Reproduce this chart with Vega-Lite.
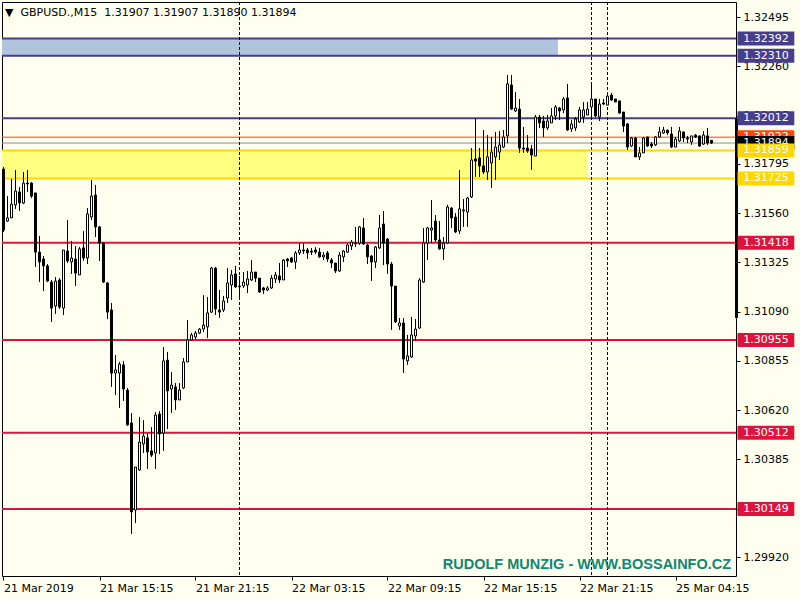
{
"$schema": "https://vega.github.io/schema/vega-lite/v6.json",
"width": 734, "height": 574,
"autosize": {"type": "none"},
"padding": {"left": 2, "top": 2, "right": 64, "bottom": 24},
"background": "#fffff0",
"config": {
 "view": {"stroke": "#000000", "strokeWidth": 1, "fill": "#fffff0"},
 "font": "DejaVu Sans",
 "axis": {"grid": false, "domain": false, "tickSize": 4, "tickColor": "#000000", "tickWidth": 1, "labelColor": "#000000", "labelFont": "DejaVu Sans", "labelFontSize": 11, "labelOverlap": false, "labelFlush": false, "labelBound": false}
},
"title": {"text": "▼\u00a0\u00a0GBPUSD.,M15\u00a0\u00a01.31907 1.31907 1.31890 1.31894", "anchor": "start", "frame": "group", "orient": "top", "offset": -16, "dx": 3, "font": "DejaVu Sans", "fontSize": 11, "fontWeight": "normal", "color": "#000000"},
"datasets": {
"levels": [
{"price": 1.32392, "kind": "resistance"},
{"price": 1.3231, "kind": "resistance"},
{"price": 1.32012, "kind": "resistance"},
{"price": 1.31922, "kind": "pivot"},
{"price": 1.31894, "kind": "bid"},
{"price": 1.31859, "kind": "zone"},
{"price": 1.31725, "kind": "zone"},
{"price": 1.31418, "kind": "support"},
{"price": 1.30955, "kind": "support"},
{"price": 1.30512, "kind": "support"},
{"price": 1.30149, "kind": "support"}
],
"candles": [{"i":0,"o":1.3177,"h":1.3178,"l":1.3147,"c":1.31479},
{"i":1,"o":1.31522,"h":1.31641,"l":1.31518,"c":1.31537},
{"i":2,"o":1.31537,"h":1.31723,"l":1.31537,"c":1.31603},
{"i":3,"o":1.31599,"h":1.31765,"l":1.3158,"c":1.31665},
{"i":4,"o":1.31661,"h":1.31684,"l":1.3157,"c":1.31608},
{"i":5,"o":1.31608,"h":1.31756,"l":1.31603,"c":1.31703},
{"i":6,"o":1.31703,"h":1.31765,"l":1.31661,"c":1.31699},
{"i":7,"o":1.31703,"h":1.31708,"l":1.31632,"c":1.31641},
{"i":8,"o":1.31656,"h":1.31656,"l":1.31303,"c":1.31374},
{"i":9,"o":1.31374,"h":1.31451,"l":1.31231,"c":1.31327},
{"i":10,"o":1.31341,"h":1.31355,"l":1.31188,"c":1.31308},
{"i":11,"o":1.31308,"h":1.31317,"l":1.31231,"c":1.31236},
{"i":12,"o":1.31231,"h":1.31241,"l":1.31041,"c":1.31107},
{"i":13,"o":1.31117,"h":1.31255,"l":1.31079,"c":1.31236},
{"i":14,"o":1.31241,"h":1.3125,"l":1.31103,"c":1.31112},
{"i":15,"o":1.31107,"h":1.31384,"l":1.31074,"c":1.31384},
{"i":16,"o":1.31379,"h":1.31527,"l":1.31322,"c":1.31332},
{"i":17,"o":1.31327,"h":1.31427,"l":1.3127,"c":1.31346},
{"i":18,"o":1.31341,"h":1.31403,"l":1.31212,"c":1.31274},
{"i":19,"o":1.31265,"h":1.31398,"l":1.31265,"c":1.31389},
{"i":20,"o":1.31394,"h":1.31475,"l":1.31332,"c":1.31346},
{"i":21,"o":1.31346,"h":1.31584,"l":1.31317,"c":1.31556},
{"i":22,"o":1.31541,"h":1.31718,"l":1.31527,"c":1.31641},
{"i":23,"o":1.31646,"h":1.31694,"l":1.31446,"c":1.31494},
{"i":24,"o":1.31494,"h":1.31498,"l":1.31332,"c":1.31417},
{"i":25,"o":1.31417,"h":1.31422,"l":1.31227,"c":1.31231},
{"i":26,"o":1.31227,"h":1.31231,"l":1.31055,"c":1.31088},
{"i":27,"o":1.31098,"h":1.31131,"l":1.30731,"c":1.30797},
{"i":28,"o":1.30797,"h":1.30883,"l":1.30692,"c":1.30812},
{"i":29,"o":1.30797,"h":1.3085,"l":1.30631,"c":1.3084},
{"i":30,"o":1.30836,"h":1.30855,"l":1.30664,"c":1.30721},
{"i":31,"o":1.30716,"h":1.30726,"l":1.30545,"c":1.3055},
{"i":32,"o":1.30559,"h":1.30607,"l":1.3003,"c":1.30135},
{"i":33,"o":1.30144,"h":1.30349,"l":1.30082,"c":1.30349},
{"i":34,"o":1.30335,"h":1.30588,"l":1.3033,"c":1.30468},
{"i":35,"o":1.30459,"h":1.30573,"l":1.30416,"c":1.30497},
{"i":36,"o":1.30488,"h":1.30511,"l":1.3034,"c":1.30421},
{"i":37,"o":1.30426,"h":1.3054,"l":1.30397,"c":1.30406},
{"i":38,"o":1.30416,"h":1.30612,"l":1.3034,"c":1.30597},
{"i":39,"o":1.30602,"h":1.30616,"l":1.30411,"c":1.30507},
{"i":40,"o":1.30511,"h":1.30921,"l":1.30426,"c":1.30855},
{"i":41,"o":1.30859,"h":1.30898,"l":1.3053,"c":1.30712},
{"i":42,"o":1.30721,"h":1.30802,"l":1.30607,"c":1.3074},
{"i":43,"o":1.30731,"h":1.3075,"l":1.30621,"c":1.30669},
{"i":44,"o":1.30669,"h":1.3075,"l":1.30669,"c":1.30716},
{"i":45,"o":1.30726,"h":1.30869,"l":1.30721,"c":1.3085},
{"i":46,"o":1.3085,"h":1.3105,"l":1.3085,"c":1.30955},
{"i":47,"o":1.30955,"h":1.30988,"l":1.3095,"c":1.30979},
{"i":48,"o":1.30969,"h":1.30998,"l":1.3096,"c":1.30988},
{"i":49,"o":1.30988,"h":1.31012,"l":1.30983,"c":1.31007},
{"i":50,"o":1.31007,"h":1.31169,"l":1.30993,"c":1.31026},
{"i":51,"o":1.31017,"h":1.3116,"l":1.30964,"c":1.31084},
{"i":52,"o":1.31088,"h":1.31303,"l":1.31084,"c":1.31298},
{"i":53,"o":1.31298,"h":1.31303,"l":1.31074,"c":1.31103},
{"i":54,"o":1.31098,"h":1.31193,"l":1.3106,"c":1.31088},
{"i":55,"o":1.31098,"h":1.31165,"l":1.31088,"c":1.31141},
{"i":56,"o":1.31155,"h":1.31298,"l":1.31131,"c":1.31227},
{"i":57,"o":1.31217,"h":1.31289,"l":1.31146,"c":1.31265},
{"i":58,"o":1.3127,"h":1.31308,"l":1.31203,"c":1.31208},
{"i":59,"o":1.31212,"h":1.3126,"l":1.31155,"c":1.31208},
{"i":60,"o":1.31212,"h":1.31279,"l":1.31203,"c":1.31231},
{"i":61,"o":1.31217,"h":1.31284,"l":1.31179,"c":1.31246},
{"i":62,"o":1.31241,"h":1.31336,"l":1.31236,"c":1.31279},
{"i":63,"o":1.31279,"h":1.31279,"l":1.31231,"c":1.3125},
{"i":64,"o":1.3125,"h":1.3125,"l":1.31179,"c":1.31184},
{"i":65,"o":1.31203,"h":1.31208,"l":1.31174,"c":1.31193},
{"i":66,"o":1.31193,"h":1.31212,"l":1.31188,"c":1.31203},
{"i":67,"o":1.31203,"h":1.31265,"l":1.31198,"c":1.3125},
{"i":68,"o":1.31246,"h":1.31279,"l":1.31227,"c":1.31265},
{"i":69,"o":1.3126,"h":1.31322,"l":1.31227,"c":1.31241},
{"i":70,"o":1.31241,"h":1.31341,"l":1.31241,"c":1.31336},
{"i":71,"o":1.31341,"h":1.31346,"l":1.31303,"c":1.31332},
{"i":72,"o":1.31346,"h":1.31351,"l":1.31322,"c":1.31327},
{"i":73,"o":1.31327,"h":1.31379,"l":1.31293,"c":1.3137},
{"i":74,"o":1.3137,"h":1.31417,"l":1.3136,"c":1.31384},
{"i":75,"o":1.31384,"h":1.31417,"l":1.31365,"c":1.31379},
{"i":76,"o":1.31384,"h":1.31394,"l":1.31341,"c":1.3137},
{"i":77,"o":1.31379,"h":1.31394,"l":1.3136,"c":1.31374},
{"i":78,"o":1.31384,"h":1.31398,"l":1.31365,"c":1.31374},
{"i":79,"o":1.31374,"h":1.31394,"l":1.31346,"c":1.31351},
{"i":80,"o":1.31351,"h":1.31374,"l":1.31336,"c":1.3136},
{"i":81,"o":1.3137,"h":1.31379,"l":1.31327,"c":1.31341},
{"i":82,"o":1.31336,"h":1.31346,"l":1.31298,"c":1.31322},
{"i":83,"o":1.31322,"h":1.31322,"l":1.31274,"c":1.31284},
{"i":84,"o":1.31284,"h":1.31374,"l":1.31279,"c":1.3136},
{"i":85,"o":1.31351,"h":1.31384,"l":1.31327,"c":1.31379},
{"i":86,"o":1.31374,"h":1.31417,"l":1.3137,"c":1.31408},
{"i":87,"o":1.31403,"h":1.31432,"l":1.31384,"c":1.31422},
{"i":88,"o":1.31417,"h":1.31494,"l":1.31398,"c":1.31413},
{"i":89,"o":1.31417,"h":1.31498,"l":1.31408,"c":1.31494},
{"i":90,"o":1.31489,"h":1.31537,"l":1.31408,"c":1.31413},
{"i":91,"o":1.31408,"h":1.31413,"l":1.31317,"c":1.31351},
{"i":92,"o":1.31355,"h":1.3136,"l":1.31236,"c":1.31327},
{"i":93,"o":1.31327,"h":1.31403,"l":1.31298,"c":1.31398},
{"i":94,"o":1.31394,"h":1.31551,"l":1.31389,"c":1.31489},
{"i":95,"o":1.31508,"h":1.3157,"l":1.31312,"c":1.31417},
{"i":96,"o":1.31436,"h":1.31441,"l":1.3127,"c":1.31317},
{"i":97,"o":1.31317,"h":1.31327,"l":1.31003,"c":1.31212},
{"i":98,"o":1.31212,"h":1.31212,"l":1.31036,"c":1.31041},
{"i":99,"o":1.31022,"h":1.3106,"l":1.31003,"c":1.31036},
{"i":100,"o":1.31036,"h":1.3106,"l":1.30797,"c":1.30864},
{"i":101,"o":1.30855,"h":1.30979,"l":1.30836,"c":1.30879},
{"i":102,"o":1.30874,"h":1.31065,"l":1.30869,"c":1.30979},
{"i":103,"o":1.30974,"h":1.31055,"l":1.3095,"c":1.31007},
{"i":104,"o":1.31012,"h":1.3125,"l":1.31007,"c":1.31241},
{"i":105,"o":1.31231,"h":1.31489,"l":1.31227,"c":1.31417},
{"i":106,"o":1.31417,"h":1.31494,"l":1.31336,"c":1.31489},
{"i":107,"o":1.31479,"h":1.31622,"l":1.31417,"c":1.31489},
{"i":108,"o":1.31522,"h":1.31551,"l":1.31422,"c":1.31432},
{"i":109,"o":1.31432,"h":1.31522,"l":1.31384,"c":1.31389},
{"i":110,"o":1.31389,"h":1.31446,"l":1.31336,"c":1.31417},
{"i":111,"o":1.31417,"h":1.31599,"l":1.31413,"c":1.31589},
{"i":112,"o":1.31584,"h":1.31589,"l":1.31489,"c":1.31537},
{"i":113,"o":1.31541,"h":1.3156,"l":1.31465,"c":1.3147},
{"i":114,"o":1.31475,"h":1.31765,"l":1.3146,"c":1.3158},
{"i":115,"o":1.3157,"h":1.31627,"l":1.31494,"c":1.31575},
{"i":116,"o":1.31565,"h":1.31637,"l":1.31494,"c":1.31632},
{"i":117,"o":1.31637,"h":1.3187,"l":1.31632,"c":1.31813},
{"i":118,"o":1.31818,"h":1.32013,"l":1.31732,"c":1.31808},
{"i":119,"o":1.31823,"h":1.3187,"l":1.31732,"c":1.31785},
{"i":120,"o":1.31785,"h":1.31956,"l":1.31746,"c":1.31756},
{"i":121,"o":1.31756,"h":1.31932,"l":1.31718,"c":1.31828},
{"i":122,"o":1.31799,"h":1.31923,"l":1.3168,"c":1.31851},
{"i":123,"o":1.31828,"h":1.31947,"l":1.31718,"c":1.31875},
{"i":124,"o":1.31851,"h":1.31951,"l":1.31813,"c":1.31885},
{"i":125,"o":1.31875,"h":1.31956,"l":1.3187,"c":1.31923},
{"i":126,"o":1.31928,"h":1.32219,"l":1.31894,"c":1.32176},
{"i":127,"o":1.32171,"h":1.32219,"l":1.32052,"c":1.32056},
{"i":128,"o":1.32047,"h":1.32137,"l":1.32042,"c":1.32061},
{"i":129,"o":1.32056,"h":1.32104,"l":1.31847,"c":1.3187},
{"i":130,"o":1.3187,"h":1.31971,"l":1.31847,"c":1.31866},
{"i":131,"o":1.3187,"h":1.31932,"l":1.31847,"c":1.31856},
{"i":132,"o":1.31866,"h":1.31885,"l":1.31766,"c":1.31837},
{"i":133,"o":1.31832,"h":1.32028,"l":1.31832,"c":1.32018},
{"i":134,"o":1.32018,"h":1.32028,"l":1.31966,"c":1.3199},
{"i":135,"o":1.31999,"h":1.32023,"l":1.31923,"c":1.31966},
{"i":136,"o":1.31966,"h":1.32028,"l":1.31956,"c":1.31999},
{"i":137,"o":1.3199,"h":1.32061,"l":1.3199,"c":1.32023},
{"i":138,"o":1.32023,"h":1.32075,"l":1.32004,"c":1.32066},
{"i":139,"o":1.32061,"h":1.32066,"l":1.32004,"c":1.32047},
{"i":140,"o":1.32052,"h":1.32114,"l":1.32037,"c":1.32104},
{"i":141,"o":1.32109,"h":1.32176,"l":1.31951,"c":1.31956},
{"i":142,"o":1.31961,"h":1.32004,"l":1.31947,"c":1.31985},
{"i":143,"o":1.31966,"h":1.32018,"l":1.31951,"c":1.32009},
{"i":144,"o":1.31994,"h":1.32066,"l":1.3199,"c":1.32052},
{"i":145,"o":1.32018,"h":1.3209,"l":1.3199,"c":1.32052},
{"i":146,"o":1.32028,"h":1.3209,"l":1.32028,"c":1.32056},
{"i":147,"o":1.32066,"h":1.32171,"l":1.32013,"c":1.32104},
{"i":148,"o":1.32104,"h":1.32104,"l":1.32018,"c":1.32023},
{"i":149,"o":1.32018,"h":1.32104,"l":1.31999,"c":1.3208},
{"i":150,"o":1.32085,"h":1.32104,"l":1.32075,"c":1.3208},
{"i":151,"o":1.32075,"h":1.32133,"l":1.32075,"c":1.32118},
{"i":152,"o":1.32123,"h":1.32133,"l":1.32095,"c":1.32099},
{"i":153,"o":1.32104,"h":1.32104,"l":1.3209,"c":1.3209},
{"i":154,"o":1.32095,"h":1.32095,"l":1.32033,"c":1.32037},
{"i":155,"o":1.32042,"h":1.32042,"l":1.31947,"c":1.31975},
{"i":156,"o":1.31985,"h":1.3199,"l":1.31861,"c":1.31875},
{"i":157,"o":1.3188,"h":1.31923,"l":1.31875,"c":1.31918},
{"i":158,"o":1.31918,"h":1.31923,"l":1.31828,"c":1.31828},
{"i":159,"o":1.31828,"h":1.31875,"l":1.31813,"c":1.31847},
{"i":160,"o":1.31847,"h":1.31923,"l":1.31847,"c":1.31918},
{"i":161,"o":1.31923,"h":1.31923,"l":1.31875,"c":1.3188},
{"i":162,"o":1.31889,"h":1.31899,"l":1.3187,"c":1.3188},
{"i":163,"o":1.31885,"h":1.31928,"l":1.3188,"c":1.31923},
{"i":164,"o":1.31923,"h":1.31971,"l":1.31918,"c":1.31947},
{"i":165,"o":1.31942,"h":1.31971,"l":1.31937,"c":1.31956},
{"i":166,"o":1.31956,"h":1.31956,"l":1.31932,"c":1.31942},
{"i":167,"o":1.31937,"h":1.31971,"l":1.3187,"c":1.31875},
{"i":168,"o":1.31875,"h":1.31923,"l":1.31875,"c":1.31913},
{"i":169,"o":1.31904,"h":1.31971,"l":1.31899,"c":1.31951},
{"i":170,"o":1.31947,"h":1.31947,"l":1.31899,"c":1.31918},
{"i":171,"o":1.31918,"h":1.31928,"l":1.31894,"c":1.31913},
{"i":172,"o":1.31899,"h":1.31928,"l":1.31885,"c":1.31928},
{"i":173,"o":1.31932,"h":1.31937,"l":1.31918,"c":1.31923},
{"i":174,"o":1.31928,"h":1.31928,"l":1.31875,"c":1.3188},
{"i":175,"o":1.31889,"h":1.31951,"l":1.31885,"c":1.31932},
{"i":176,"o":1.31928,"h":1.31966,"l":1.31885,"c":1.31894},
{"i":177,"o":1.31907,"h":1.31907,"l":1.3189,"c":1.31894}]
},
"layer": [
{
"data": {"values": [
{"zone": "blue", "start": -0.375, "end": 138.6, "top": 1.32392, "bottom": 1.3231},
{"zone": "yellow", "start": -0.375, "end": 145.9, "top": 1.31859, "bottom": 1.31725}
]},
"mark": {"type": "rect"},
"encoding": {
"x": {"field": "start", "type": "quantitative", "scale": {"domain": [-0.375, 183.125], "nice": false, "zero": false, "padding": 0},
  "axis": {"values": [0, 24, 48, 72, 96, 120, 144, 168], "labelExpr": "['21 Mar 2019','21 Mar 15:15','21 Mar 21:15','22 Mar 03:15','22 Mar 09:15','22 Mar 15:15','22 Mar 21:15','25 Mar 04:15'][round(datum.value/24)]", "title": null, "labelAlign": "left", "labelPadding": 2}},
"x2": {"field": "end"},
"y": {"field": "top", "type": "quantitative", "scale": {"domain": [1.298294, 1.325666], "nice": false, "zero": false, "padding": 0},
  "axis": {"orient": "right", "values": [1.32495, 1.3226, 1.32025, 1.31795, 1.3156, 1.31325, 1.3109, 1.30855, 1.3062, 1.30385, 1.3015, 1.2992], "format": ".5f", "title": null, "labelPadding": 3}},
"y2": {"field": "bottom"},
"fill": {"field": "zone", "type": "nominal", "scale": {"domain": ["blue", "yellow"], "range": ["#b0c4de", "#ffff80"]}, "legend": null}
}
},
{
"data": {"name": "levels"},
"mark": {"type": "rule"},
"encoding": {
"y": {"field": "price", "type": "quantitative", "scale": {"domain": [1.298294, 1.325666], "nice": false, "zero": false, "padding": 0},
  "axis": {"orient": "right", "values": [1.32495, 1.3226, 1.32025, 1.31795, 1.3156, 1.31325, 1.3109, 1.30855, 1.3062, 1.30385, 1.3015, 1.2992], "format": ".5f", "title": null, "labelPadding": 3}},
"color": {"field": "kind", "type": "nominal", "scale": {"domain": ["resistance", "pivot", "bid", "zone", "support"], "range": ["#483d8b", "#ff4500", "#8c8c8c", "#ffd700", "#dc143c"]}, "legend": null},
"strokeWidth": {"condition": {"test": "datum.kind == 'pivot' || datum.kind == 'bid'", "value": 1}, "value": 2}
}
},
{
"data": {"values": [{"i": 59}, {"i": 147}, {"i": 151}]},
"mark": {"type": "rule", "color": "#000000", "strokeWidth": 1, "strokeDash": [3, 2]},
"encoding": {
"x": {"field": "i", "type": "quantitative", "scale": {"domain": [-0.375, 183.125], "nice": false, "zero": false, "padding": 0},
  "axis": {"values": [0, 24, 48, 72, 96, 120, 144, 168], "labelExpr": "['21 Mar 2019','21 Mar 15:15','21 Mar 21:15','22 Mar 03:15','22 Mar 09:15','22 Mar 15:15','22 Mar 21:15','25 Mar 04:15'][round(datum.value/24)]", "title": null, "labelAlign": "left", "labelPadding": 2}}
}
},
{
"data": {"name": "candles"},
"mark": {"type": "rule", "color": "#000000", "strokeWidth": 1},
"encoding": {
"x": {"field": "i", "type": "quantitative", "scale": {"domain": [-0.375, 183.125], "nice": false, "zero": false, "padding": 0},
  "axis": {"values": [0, 24, 48, 72, 96, 120, 144, 168], "labelExpr": "['21 Mar 2019','21 Mar 15:15','21 Mar 21:15','22 Mar 03:15','22 Mar 09:15','22 Mar 15:15','22 Mar 21:15','25 Mar 04:15'][round(datum.value/24)]", "title": null, "labelAlign": "left", "labelPadding": 2}},
"y": {"field": "l", "type": "quantitative", "scale": {"domain": [1.298294, 1.325666], "nice": false, "zero": false, "padding": 0},
  "axis": {"orient": "right", "values": [1.32495, 1.3226, 1.32025, 1.31795, 1.3156, 1.31325, 1.3109, 1.30855, 1.3062, 1.30385, 1.3015, 1.2992], "format": ".5f", "title": null, "labelPadding": 3}},
"y2": {"field": "h"}
}
},
{
"data": {"name": "candles"},
"mark": {"type": "bar", "orient": "vertical", "width": 2, "stroke": "#000000", "strokeWidth": 1},
"encoding": {
"x": {"field": "i", "type": "quantitative", "scale": {"domain": [-0.375, 183.125], "nice": false, "zero": false, "padding": 0},
  "axis": {"values": [0, 24, 48, 72, 96, 120, 144, 168], "labelExpr": "['21 Mar 2019','21 Mar 15:15','21 Mar 21:15','22 Mar 03:15','22 Mar 09:15','22 Mar 15:15','22 Mar 21:15','25 Mar 04:15'][round(datum.value/24)]", "title": null, "labelAlign": "left", "labelPadding": 2}},
"y": {"field": "o", "type": "quantitative", "scale": {"domain": [1.298294, 1.325666], "nice": false, "zero": false, "padding": 0},
  "axis": {"orient": "right", "values": [1.32495, 1.3226, 1.32025, 1.31795, 1.3156, 1.31325, 1.3109, 1.30855, 1.3062, 1.30385, 1.3015, 1.2992], "format": ".5f", "title": null, "labelPadding": 3}},
"y2": {"field": "c"},
"fill": {"condition": {"test": "datum.c > datum.o", "value": "#ffffff"}, "value": "#000000"}
}
},
{
"data": {"values": [{"from": 1.32012, "to": 1.3106}]},
"mark": {"type": "rule", "color": "#000000", "strokeWidth": 3, "strokeCap": "butt"},
"encoding": {
"x": {"datum": 183.25, "type": "quantitative", "scale": {"domain": [-0.375, 183.125], "nice": false, "zero": false, "padding": 0},
  "axis": {"values": [0, 24, 48, 72, 96, 120, 144, 168], "labelExpr": "['21 Mar 2019','21 Mar 15:15','21 Mar 21:15','22 Mar 03:15','22 Mar 09:15','22 Mar 15:15','22 Mar 21:15','25 Mar 04:15'][round(datum.value/24)]", "title": null, "labelAlign": "left", "labelPadding": 2}},
"y": {"field": "from", "type": "quantitative", "scale": {"domain": [1.298294, 1.325666], "nice": false, "zero": false, "padding": 0},
  "axis": {"orient": "right", "values": [1.32495, 1.3226, 1.32025, 1.31795, 1.3156, 1.31325, 1.3109, 1.30855, 1.3062, 1.30385, 1.3015, 1.2992], "format": ".5f", "title": null, "labelPadding": 3}},
"y2": {"field": "to"}
}
},
{
"data": {"name": "levels"},
"transform": [{"filter": "datum.kind != 'pivot' && datum.kind != 'bid' && datum.price != 1.31859"}],
"mark": {"type": "rule", "strokeWidth": 14, "strokeCap": "butt"},
"encoding": {
"x": {"datum": 183.5, "type": "quantitative", "scale": {"domain": [-0.375, 183.125], "nice": false, "zero": false, "padding": 0},
  "axis": {"values": [0, 24, 48, 72, 96, 120, 144, 168], "labelExpr": "['21 Mar 2019','21 Mar 15:15','21 Mar 21:15','22 Mar 03:15','22 Mar 09:15','22 Mar 15:15','22 Mar 21:15','25 Mar 04:15'][round(datum.value/24)]", "title": null, "labelAlign": "left", "labelPadding": 2}},
"x2": {"datum": 197.7},
"y": {"field": "price", "type": "quantitative", "scale": {"domain": [1.298294, 1.325666], "nice": false, "zero": false, "padding": 0},
  "axis": {"orient": "right", "values": [1.32495, 1.3226, 1.32025, 1.31795, 1.3156, 1.31325, 1.3109, 1.30855, 1.3062, 1.30385, 1.3015, 1.2992], "format": ".5f", "title": null, "labelPadding": 3}},
"stroke": {"field": "kind", "type": "nominal", "scale": {"domain": ["resistance", "pivot", "bid", "zone", "support"], "range": ["#483d8b", "#ff4500", "#000000", "#ffd700", "#dc143c"]}, "legend": null}
}
},
{
"data": {"name": "levels"},
"transform": [{"filter": "datum.kind != 'pivot' && datum.kind != 'bid' && datum.price != 1.31859"}],
"mark": {"type": "text", "align": "center", "baseline": "middle", "fill": "#ffffff", "font": "DejaVu Sans", "fontSize": 11},
"encoding": {
"x": {"datum": 190.6, "type": "quantitative", "scale": {"domain": [-0.375, 183.125], "nice": false, "zero": false, "padding": 0},
  "axis": {"values": [0, 24, 48, 72, 96, 120, 144, 168], "labelExpr": "['21 Mar 2019','21 Mar 15:15','21 Mar 21:15','22 Mar 03:15','22 Mar 09:15','22 Mar 15:15','22 Mar 21:15','25 Mar 04:15'][round(datum.value/24)]", "title": null, "labelAlign": "left", "labelPadding": 2}},
"y": {"field": "price", "type": "quantitative", "scale": {"domain": [1.298294, 1.325666], "nice": false, "zero": false, "padding": 0},
  "axis": {"orient": "right", "values": [1.32495, 1.3226, 1.32025, 1.31795, 1.3156, 1.31325, 1.3109, 1.30855, 1.3062, 1.30385, 1.3015, 1.2992], "format": ".5f", "title": null, "labelPadding": 3}},
"text": {"field": "price", "type": "quantitative", "format": ".5f"}
}
},
{
"data": {"name": "levels"},
"transform": [{"filter": "datum.kind == 'pivot'"}],
"mark": {"type": "rule", "strokeWidth": 14, "strokeCap": "butt"},
"encoding": {
"x": {"datum": 183.5, "type": "quantitative", "scale": {"domain": [-0.375, 183.125], "nice": false, "zero": false, "padding": 0},
  "axis": {"values": [0, 24, 48, 72, 96, 120, 144, 168], "labelExpr": "['21 Mar 2019','21 Mar 15:15','21 Mar 21:15','22 Mar 03:15','22 Mar 09:15','22 Mar 15:15','22 Mar 21:15','25 Mar 04:15'][round(datum.value/24)]", "title": null, "labelAlign": "left", "labelPadding": 2}},
"x2": {"datum": 197.7},
"y": {"field": "price", "type": "quantitative", "scale": {"domain": [1.298294, 1.325666], "nice": false, "zero": false, "padding": 0},
  "axis": {"orient": "right", "values": [1.32495, 1.3226, 1.32025, 1.31795, 1.3156, 1.31325, 1.3109, 1.30855, 1.3062, 1.30385, 1.3015, 1.2992], "format": ".5f", "title": null, "labelPadding": 3}},
"stroke": {"field": "kind", "type": "nominal", "scale": {"domain": ["resistance", "pivot", "bid", "zone", "support"], "range": ["#483d8b", "#ff4500", "#000000", "#ffd700", "#dc143c"]}, "legend": null}
}
},
{
"data": {"name": "levels"},
"transform": [{"filter": "datum.kind == 'pivot'"}],
"mark": {"type": "text", "align": "center", "baseline": "middle", "fill": "#ffffff", "font": "DejaVu Sans", "fontSize": 11},
"encoding": {
"x": {"datum": 190.6, "type": "quantitative", "scale": {"domain": [-0.375, 183.125], "nice": false, "zero": false, "padding": 0},
  "axis": {"values": [0, 24, 48, 72, 96, 120, 144, 168], "labelExpr": "['21 Mar 2019','21 Mar 15:15','21 Mar 21:15','22 Mar 03:15','22 Mar 09:15','22 Mar 15:15','22 Mar 21:15','25 Mar 04:15'][round(datum.value/24)]", "title": null, "labelAlign": "left", "labelPadding": 2}},
"y": {"field": "price", "type": "quantitative", "scale": {"domain": [1.298294, 1.325666], "nice": false, "zero": false, "padding": 0},
  "axis": {"orient": "right", "values": [1.32495, 1.3226, 1.32025, 1.31795, 1.3156, 1.31325, 1.3109, 1.30855, 1.3062, 1.30385, 1.3015, 1.2992], "format": ".5f", "title": null, "labelPadding": 3}},
"text": {"field": "price", "type": "quantitative", "format": ".5f"}
}
},
{
"data": {"name": "levels"},
"transform": [{"filter": "datum.kind == 'bid'"}],
"mark": {"type": "rule", "strokeWidth": 14, "strokeCap": "butt"},
"encoding": {
"x": {"datum": 183.5, "type": "quantitative", "scale": {"domain": [-0.375, 183.125], "nice": false, "zero": false, "padding": 0},
  "axis": {"values": [0, 24, 48, 72, 96, 120, 144, 168], "labelExpr": "['21 Mar 2019','21 Mar 15:15','21 Mar 21:15','22 Mar 03:15','22 Mar 09:15','22 Mar 15:15','22 Mar 21:15','25 Mar 04:15'][round(datum.value/24)]", "title": null, "labelAlign": "left", "labelPadding": 2}},
"x2": {"datum": 197.7},
"y": {"field": "price", "type": "quantitative", "scale": {"domain": [1.298294, 1.325666], "nice": false, "zero": false, "padding": 0},
  "axis": {"orient": "right", "values": [1.32495, 1.3226, 1.32025, 1.31795, 1.3156, 1.31325, 1.3109, 1.30855, 1.3062, 1.30385, 1.3015, 1.2992], "format": ".5f", "title": null, "labelPadding": 3}},
"stroke": {"field": "kind", "type": "nominal", "scale": {"domain": ["resistance", "pivot", "bid", "zone", "support"], "range": ["#483d8b", "#ff4500", "#000000", "#ffd700", "#dc143c"]}, "legend": null}
}
},
{
"data": {"name": "levels"},
"transform": [{"filter": "datum.kind == 'bid'"}],
"mark": {"type": "text", "align": "center", "baseline": "middle", "fill": "#ffffff", "font": "DejaVu Sans", "fontSize": 11},
"encoding": {
"x": {"datum": 190.6, "type": "quantitative", "scale": {"domain": [-0.375, 183.125], "nice": false, "zero": false, "padding": 0},
  "axis": {"values": [0, 24, 48, 72, 96, 120, 144, 168], "labelExpr": "['21 Mar 2019','21 Mar 15:15','21 Mar 21:15','22 Mar 03:15','22 Mar 09:15','22 Mar 15:15','22 Mar 21:15','25 Mar 04:15'][round(datum.value/24)]", "title": null, "labelAlign": "left", "labelPadding": 2}},
"y": {"field": "price", "type": "quantitative", "scale": {"domain": [1.298294, 1.325666], "nice": false, "zero": false, "padding": 0},
  "axis": {"orient": "right", "values": [1.32495, 1.3226, 1.32025, 1.31795, 1.3156, 1.31325, 1.3109, 1.30855, 1.3062, 1.30385, 1.3015, 1.2992], "format": ".5f", "title": null, "labelPadding": 3}},
"text": {"field": "price", "type": "quantitative", "format": ".5f"}
}
},
{
"data": {"name": "levels"},
"transform": [{"filter": "datum.price == 1.31859"}],
"mark": {"type": "rule", "strokeWidth": 14, "strokeCap": "butt"},
"encoding": {
"x": {"datum": 183.5, "type": "quantitative", "scale": {"domain": [-0.375, 183.125], "nice": false, "zero": false, "padding": 0},
  "axis": {"values": [0, 24, 48, 72, 96, 120, 144, 168], "labelExpr": "['21 Mar 2019','21 Mar 15:15','21 Mar 21:15','22 Mar 03:15','22 Mar 09:15','22 Mar 15:15','22 Mar 21:15','25 Mar 04:15'][round(datum.value/24)]", "title": null, "labelAlign": "left", "labelPadding": 2}},
"x2": {"datum": 197.7},
"y": {"field": "price", "type": "quantitative", "scale": {"domain": [1.298294, 1.325666], "nice": false, "zero": false, "padding": 0},
  "axis": {"orient": "right", "values": [1.32495, 1.3226, 1.32025, 1.31795, 1.3156, 1.31325, 1.3109, 1.30855, 1.3062, 1.30385, 1.3015, 1.2992], "format": ".5f", "title": null, "labelPadding": 3}},
"stroke": {"field": "kind", "type": "nominal", "scale": {"domain": ["resistance", "pivot", "bid", "zone", "support"], "range": ["#483d8b", "#ff4500", "#000000", "#ffd700", "#dc143c"]}, "legend": null}
}
},
{
"data": {"name": "levels"},
"transform": [{"filter": "datum.price == 1.31859"}],
"mark": {"type": "text", "align": "center", "baseline": "middle", "fill": "#ffffff", "font": "DejaVu Sans", "fontSize": 11},
"encoding": {
"x": {"datum": 190.6, "type": "quantitative", "scale": {"domain": [-0.375, 183.125], "nice": false, "zero": false, "padding": 0},
  "axis": {"values": [0, 24, 48, 72, 96, 120, 144, 168], "labelExpr": "['21 Mar 2019','21 Mar 15:15','21 Mar 21:15','22 Mar 03:15','22 Mar 09:15','22 Mar 15:15','22 Mar 21:15','25 Mar 04:15'][round(datum.value/24)]", "title": null, "labelAlign": "left", "labelPadding": 2}},
"y": {"field": "price", "type": "quantitative", "scale": {"domain": [1.298294, 1.325666], "nice": false, "zero": false, "padding": 0},
  "axis": {"orient": "right", "values": [1.32495, 1.3226, 1.32025, 1.31795, 1.3156, 1.31325, 1.3109, 1.30855, 1.3062, 1.30385, 1.3015, 1.2992], "format": ".5f", "title": null, "labelPadding": 3}},
"text": {"field": "price", "type": "quantitative", "format": ".5f"}
}
},
{
"data": {"values": [{"t": "RUDOLF MUNZIG - WWW.BOSSAINFO.CZ", "price": 1.29863}]},
"mark": {"type": "text", "align": "right", "baseline": "alphabetic", "font": "Liberation Sans", "fontWeight": "bold", "fontSize": 14.5, "fill": "#10876f"},
"encoding": {
"x": {"datum": 181.9, "type": "quantitative", "scale": {"domain": [-0.375, 183.125], "nice": false, "zero": false, "padding": 0},
  "axis": {"values": [0, 24, 48, 72, 96, 120, 144, 168], "labelExpr": "['21 Mar 2019','21 Mar 15:15','21 Mar 21:15','22 Mar 03:15','22 Mar 09:15','22 Mar 15:15','22 Mar 21:15','25 Mar 04:15'][round(datum.value/24)]", "title": null, "labelAlign": "left", "labelPadding": 2}},
"y": {"field": "price", "type": "quantitative", "scale": {"domain": [1.298294, 1.325666], "nice": false, "zero": false, "padding": 0},
  "axis": {"orient": "right", "values": [1.32495, 1.3226, 1.32025, 1.31795, 1.3156, 1.31325, 1.3109, 1.30855, 1.3062, 1.30385, 1.3015, 1.2992], "format": ".5f", "title": null, "labelPadding": 3}},
"text": {"field": "t"}
}
}
]
}
